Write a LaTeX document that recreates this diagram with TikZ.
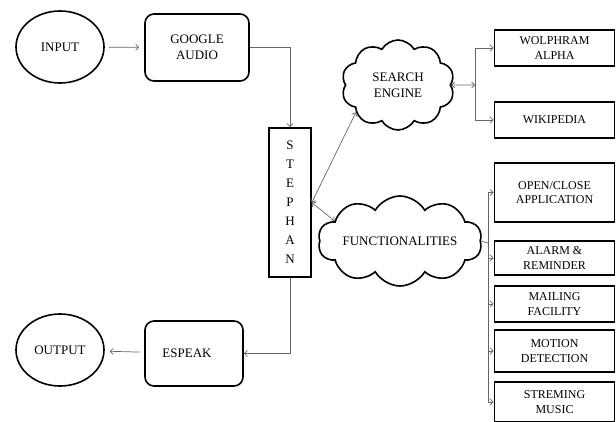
\documentclass[tikz,border=0pt]{standalone}
\usepackage{fontspec}
\setmainfont{Liberation Serif}
\newfontfamily\tnr{Liberation Serif}
\usetikzlibrary{shapes.geometric,shapes.symbols,arrows.meta}
\begin{document}
\begin{tikzpicture}[x=1pt,y=-1pt,
  every node/.style={font=\tnr\fontsize{13}{16}\selectfont, align=center, inner sep=0pt},
  ell/.style={ellipse, draw, line width=1.6pt, minimum width=88pt, minimum height=72pt},
  rbox/.style={rectangle, rounded corners=9pt, draw, line width=1.6pt},
  sbox/.style={rectangle, draw, line width=1.6pt},
  rbx/.style={rectangle, draw, line width=1.6pt, minimum width=120pt, font=\tnr\fontsize{12}{14.5}\selectfont},
  cl/.style={cloud, draw, line width=1.6pt, cloud puffs=10, cloud puff arc=120, cloud ignores aspect},
  conn/.style={draw=black!60, line width=0.7pt, arrows={-Straight Barb[length=3pt,width=6pt]}},
  both/.style={arrows={Straight Barb[length=3pt,width=6pt]-Straight Barb[length=3pt,width=6pt]}},
  plain/.style={draw=black!60, line width=0.7pt}]
\useasboundingbox (0,0) rectangle (616,421);

\node[ell] (in) at (60,47) {INPUT};
\node[rbox, minimum width=104pt, minimum height=67pt] (ga) at (197,47.5) {GOOGLE\\AUDIO};
\node[sbox, minimum width=42pt, minimum height=149pt, font=\tnr\fontsize{13}{19}\selectfont] (st) at (290,202.5) {S\\T\\E\\P\\H\\A\\N};
\node[rbox, minimum width=98pt, minimum height=65pt] (es) at (194,353.5) {ESPEAK\hspace*{14pt}};
\node[ell] (out) at (60,350) {OUTPUT};

\node[cl, minimum width=113pt, minimum height=90pt] (se) at (398,85) {SEARCH\\ENGINE};
\node[cl, minimum width=164pt, minimum height=90pt] (fn) at (400,241) {FUNCTIONALITIES};

\node[rbx, minimum height=36pt] (wa) at (554.5,48) {WOLPHRAM\\ALPHA};
\node[rbx, minimum height=36pt] (wk) at (554.5,120) {WIKIPEDIA};
\node[rbx, minimum height=59pt] (oc) at (554.5,192.5) {OPEN/CLOSE\\APPLICATION};
\node[rbx, minimum height=34pt] (al) at (554.5,258) {ALARM \&\\REMINDER};
\node[rbx, minimum height=36pt] (ml) at (554.5,304) {MAILING\\FACILITY};
\node[rbx, minimum height=42pt] (mo) at (554.5,351) {MOTION\\DETECTION};
\node[rbx, minimum height=40pt] (sm) at (554.5,402) {STREMING\\MUSIC};

\coordinate (sj) at (475,85);
\coordinate (fj) at (488,243);

\draw[conn, shorten <=4pt, shorten >=5pt] (in) -- (ga);
\draw[conn] (ga.east) -| (st.north);
\draw[conn] (st.south) |- (es.east);
\draw[conn, shorten <=4pt, shorten >=5pt] (es) -- (out);
\draw[conn, both] (st.east) -- (se.213);
\draw[conn, both] (st.east) -- (fn.163);
\draw[conn, both] (se.east) -- (sj);
\draw[conn] (sj) |- (wa.west);
\draw[conn] (sj) |- (wk.west);
\draw[plain] (fn.east) -- (fj);
\draw[conn] (fj) |- (oc.west);
\draw[conn] (fj) |- (al.west);
\draw[conn] (fj) |- (ml.west);
\draw[conn] (fj) |- (mo.west);
\draw[conn] (fj) |- (sm.west);
\end{tikzpicture}
\end{document}
